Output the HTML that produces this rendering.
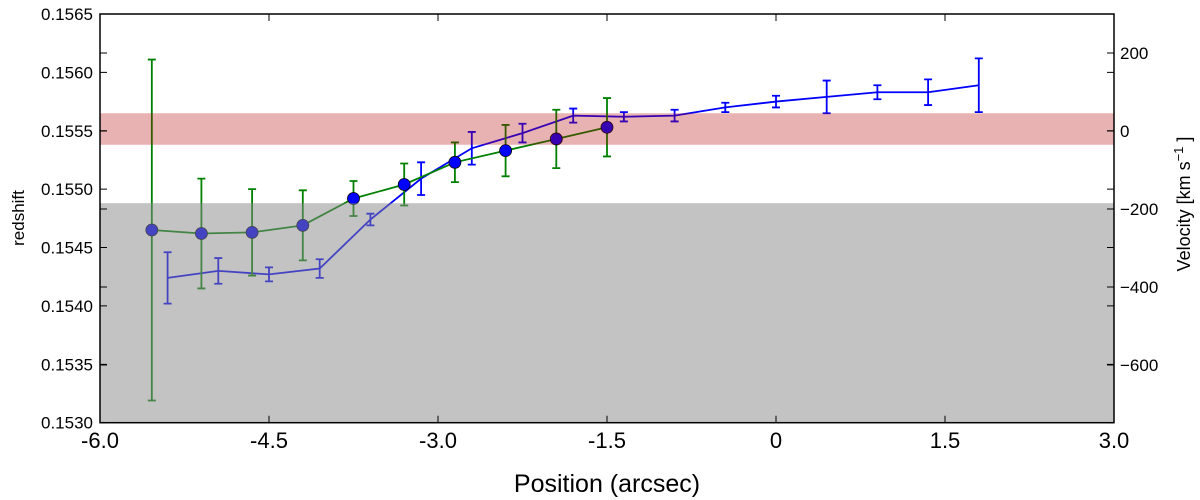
<!DOCTYPE html>
<html><head><meta charset="utf-8"><style>
html,body{margin:0;padding:0;background:#fff;}
svg{display:block;font-family:"Liberation Sans","DejaVu Sans",sans-serif;}
</style></head><body>
<svg id="chart" width="1200" height="500" viewBox="0 0 1200 500" xmlns="http://www.w3.org/2000/svg">
<g id="marks"></g>
<g id="axes"></g>
<text x="24" y="218" font-size="17" text-anchor="middle" transform="rotate(-90 24 218)">redshift</text>
<text x="607" y="492" font-size="25" text-anchor="middle">Position (arcsec)</text>
<text x="1190" y="204" font-size="18" text-anchor="middle" transform="rotate(-90 1190 204)">Velocity [km s<tspan dy="-7" font-size="13">−1</tspan><tspan dy="7"> ]</tspan></text>
</svg>
<script>
const greenPos=[-5.54,-5.10,-4.65,-4.20,-3.75,-3.30,-2.85,-2.40,-1.95,-1.50];
const greenZ=[0.15465,0.15462,0.15463,0.15469,0.15492,0.15504,0.15523,0.15533,0.15543,0.15553];
const greenErr=[0.00146,0.00047,0.00037,0.00030,0.00015,0.00018,0.00017,0.00022,0.00025,0.00025];
const bluePos=[-5.40,-4.95,-4.50,-4.05,-3.60,-3.15,-2.70,-2.25,-1.80,-1.35,-0.90,-0.45,0.00,0.45,0.90,1.35,1.80];
const blueZ=[0.15424,0.15430,0.15427,0.15432,0.15474,0.15509,0.15535,0.15548,0.15563,0.15562,0.15563,0.15570,0.15575,0.15579,0.15583,0.15583,0.15589];
const blueErr=[0.00022,0.00011,0.00006,0.00008,0.00005,0.00014,0.00014,0.00008,0.00006,0.00004,0.00005,0.00004,0.00005,0.00014,0.00006,0.00011,0.00023];
const xTicks=[-6.0,-4.5,-3.0,-1.5,0,1.5,3.0];
const xTickLabels=["-6.0","-4.5","-3.0","-1.5","0","1.5","3.0"];
const yTicks=[0.1530,0.1535,0.1540,0.1545,0.1550,0.1555,0.1560,0.1565];
const yTickLabels=["0.1530","0.1535","0.1540","0.1545","0.1550","0.1555","0.1560","0.1565"];
const vTicks=[200,0,-200,-400,-600];
const vTickLabels=["200","0","\u2212200","\u2212400","\u2212600"];
const redBand=[0.15538,0.15565];
const grayBand=[0.1530,0.15488];

const L=100,R=1114,T=14,B=422.7;
const X=p=>L+(p+6)*(R-L)/9;
const Y=z=>T+(0.1565-z)*(B-T)/0.0035;
const V=v=>131-v*0.39;
const NS="http://www.w3.org/2000/svg";
function mk(tag,attrs,parent){const e=document.createElementNS(NS,tag);for(const k in attrs)e.setAttribute(k,attrs[k]);parent.appendChild(e);return e;}
const marks=document.getElementById('marks'),axes=document.getElementById('axes');

function series(pos,z,err,color,cap,name){
  let d='';pos.forEach((p,i)=>{d+=(i?'L':'M')+X(p)+' '+Y(z[i]);});
  const ln=mk('path',{d:d,fill:'none',stroke:color,'stroke-width':1.8},marks);
  
  
  pos.forEach((p,i)=>{
    const x=X(p),y1=Y(z[i]+err[i]),y2=Y(z[i]-err[i]);
    const eb=mk('path',{d:`M${x} ${y1}L${x} ${y2}M${x-cap} ${y1}L${x+cap} ${y1}M${x-cap} ${y2}L${x+cap} ${y2}`,stroke:color,'stroke-width':1.8,fill:'none'},marks);
    
    
  });
}
series(bluePos,blueZ,blueErr,'#0000ff',4,'blue-series');
series(greenPos,greenZ,greenErr,'#008000',4,'green-series');
greenPos.forEach((p,i)=>{
  const c=mk('circle',{cx:X(p),cy:Y(greenZ[i]),r:6,fill:'#0000ff',stroke:'#000','stroke-width':0.8},marks);
  
  
});
const rb=mk('rect',{x:L,y:Y(redBand[1]),width:R-L,height:Y(redBand[0])-Y(redBand[1]),fill:'#b20000','fill-opacity':0.3},marks);


const gb=mk('rect',{x:L,y:Y(grayBand[1]),width:R-L,height:Y(grayBand[0])-Y(grayBand[1]),fill:'#888888','fill-opacity':0.5},marks);



const fr=mk('rect',{x:L,y:T,width:R-L,height:B-T,fill:'none',stroke:'#000','stroke-width':1.5},axes);


xTicks.forEach((t,i)=>{
  const x=X(t);
  mk('path',{d:`M${x} ${T}v7M${x} ${B}v-7`,stroke:'#000','stroke-width':1},axes);
  const tx=mk('text',{x:x,y:448,'font-size':22,'text-anchor':'middle'},axes);
  tx.textContent=xTickLabels[i];
  
  
});
yTicks.forEach((t,i)=>{
  const y=Y(t);
  mk('path',{d:`M${L} ${y}h7M${R} ${y}h-7`,stroke:'#000','stroke-width':1},axes);
  const tx=mk('text',{x:L-7,y:y+6,'font-size':17,'text-anchor':'end'},axes);
  tx.textContent=yTickLabels[i];
  
  
});
vTicks.forEach((t,i)=>{
  const y=V(t);
  mk('path',{d:`M${L} ${y}h7M${R} ${y}h-7`,stroke:'#000','stroke-width':1},axes);
  const tx=mk('text',{x:R+6,y:y+6,'font-size':17,'text-anchor':'start'},axes);
  tx.textContent=vTickLabels[i];
  
  
});
</script>
</body></html>
